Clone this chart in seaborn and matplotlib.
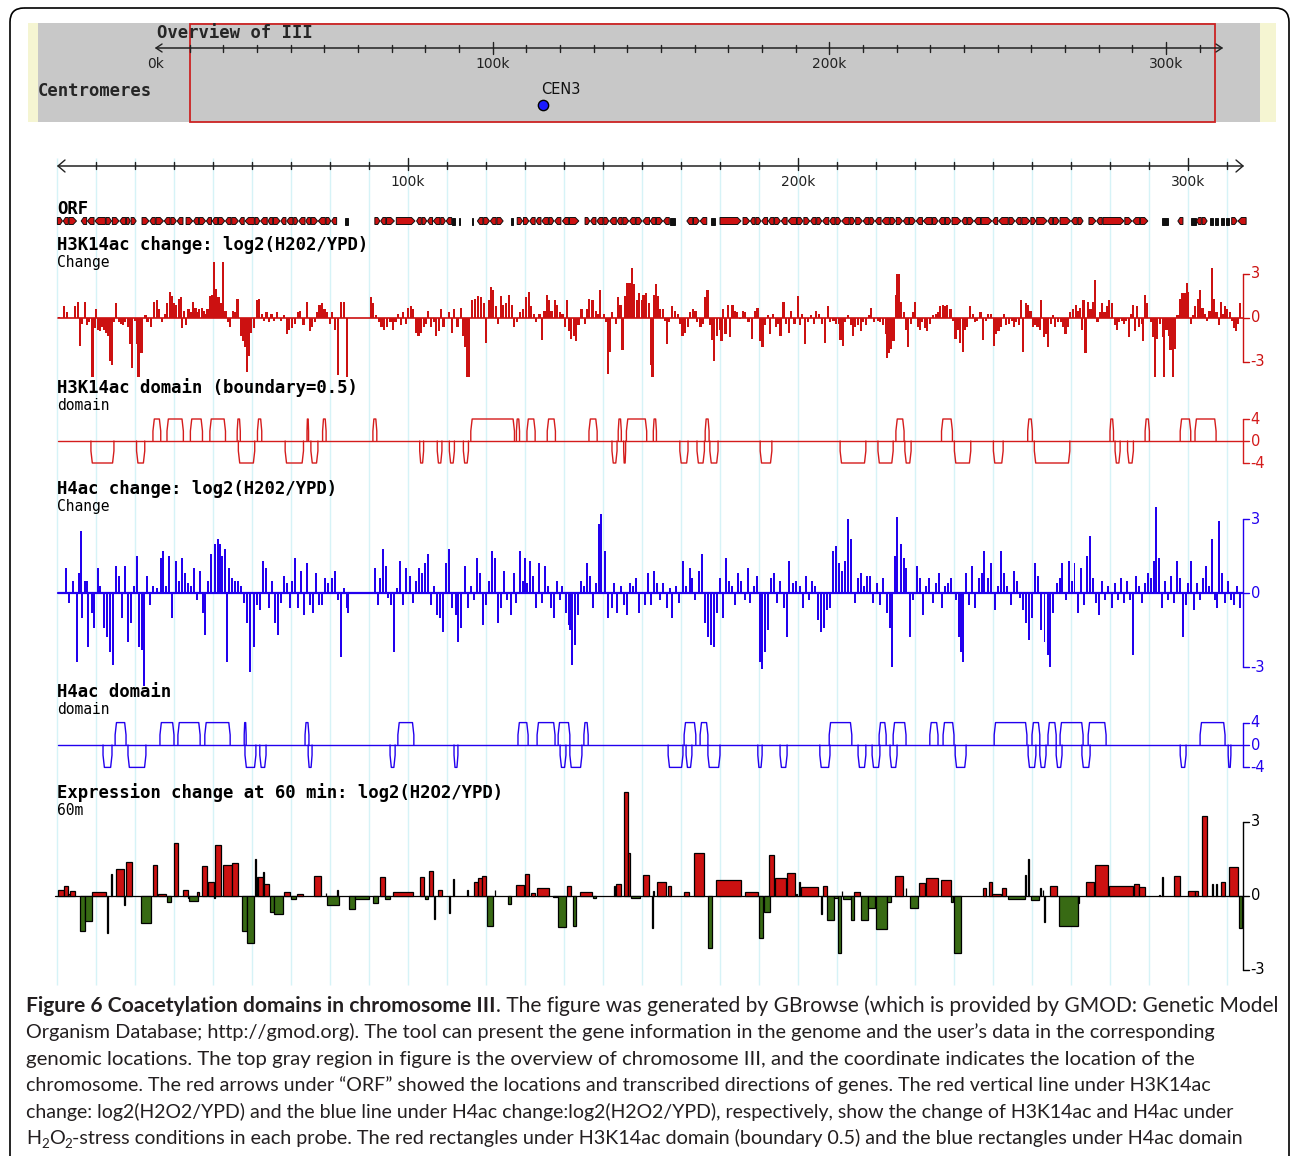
import numpy as np
import pandas as pd
import matplotlib
matplotlib.use("Agg")
import matplotlib.pyplot as plt
from matplotlib.patches import Rectangle, Polygon, FancyBboxPatch
import seaborn as sns

# ---------------------------------------------------------------- data
chr_len_kb = 316.6
view_kb = [10.1, 314.5]
cen3_kb = 114.9
ruler_major_kb = [100, 200, 300]
ruler_major_labels = ["100k", "200k", "300k"]
overview_labels = ["0k", "100k", "200k", "300k"]

# ORF features: (start kb, end kb, strand); strand 0 = unoriented feature
orf_genes = [
    (10.1, 11.4, 1), (11.6, 12.9, -1), (13.1, 15.0, 1),
    (16.2, 17.6, -1), (17.8, 19.5, -1), (19.7, 22.4, -1), (22.6, 24.0, 1), (24.2, 25.9, 1),
    (26.1, 27.6, -1), (27.8, 28.8, 1), (29.0, 30.3, 1),
    (31.8, 33.6, 1), (33.8, 35.2, -1), (35.4, 37.3, 1), (37.5, 39.0, -1), (39.2, 40.6, 1), (40.8, 42.3, -1),
    (43.1, 44.8, 1), (45.0, 46.3, -1), (46.5, 48.1, 1), (48.3, 49.6, -1), (49.8, 51.2, -1), (51.4, 53.0, 1),
    (53.2, 54.6, -1), (54.8, 56.5, 1), (56.7, 58.0, -1), (58.2, 60.6, -1), (60.8, 62.0, 1), (62.2, 63.9, -1),
    (64.1, 65.3, -1), (65.5, 67.2, 1), (67.4, 68.7, -1), (68.9, 70.5, -1), (70.7, 71.8, 1), (72.0, 73.6, -1),
    (73.8, 75.0, -1), (75.2, 76.8, 1), (77.0, 78.8, -1), (79.0, 80.2, 1), (80.4, 81.7, -1), (83.9, 84.6, 0),
    (91.5, 92.8, 1), (93.0, 94.3, -1), (94.5, 96.5, 1), (97.0, 101.8, 1), (102.2, 103.4, -1), (103.6, 104.8, 1),
    (105.0, 106.3, -1), (106.5, 108.2, -1), (108.4, 109.6, 1), (109.8, 111.2, -1), (111.4, 112.0, 0), (113.1, 113.4, 0),
    (116.4, 116.7, 0), (117.8, 119.2, -1), (119.4, 120.9, 1), (121.1, 122.6, -1), (122.8, 124.4, 1),
    (126.4, 126.9, 0), (128.0, 129.4, 1), (129.6, 131.0, 1), (131.2, 132.6, -1), (132.8, 134.1, -1),
    (134.3, 136.0, -1), (136.2, 137.4, 1), (137.6, 139.2, -1), (139.6, 141.2, -1), (141.4, 143.8, 1),
    (145.4, 146.6, 1), (146.8, 148.2, -1), (148.4, 150.0, -1), (150.2, 151.5, 1), (151.7, 153.4, -1),
    (153.6, 154.9, -1), (155.1, 156.6, 1), (156.8, 158.3, -1), (158.5, 160.0, 1), (160.2, 161.9, -1),
    (162.1, 163.5, -1), (163.7, 165.3, 1), (165.5, 167.0, -1), (167.2, 168.5, 0),
    (171.5, 173.0, -1), (173.2, 174.7, 1), (174.9, 176.6, -1), (177.8, 178.7, 0),
    (180.0, 185.4, 1), (185.9, 187.6, 1), (187.8, 189.0, -1), (189.2, 190.5, 1), (190.7, 192.2, -1),
    (192.4, 193.8, -1), (194.0, 195.5, 1), (195.7, 197.2, -1), (197.4, 199.6, -1), (199.8, 201.3, 1),
    (201.5, 203.0, 1), (203.2, 204.6, -1), (204.8, 206.1, 1), (206.3, 207.9, -1), (208.1, 209.5, -1),
    (209.7, 211.0, 1), (211.2, 213.1, -1), (213.3, 214.6, 1), (214.8, 216.5, 1), (216.7, 218.2, -1),
    (218.4, 219.6, 1), (219.8, 221.3, -1), (221.5, 223.4, -1), (223.6, 225.0, 1), (225.2, 226.8, 1),
    (227.0, 228.4, -1), (228.6, 230.1, 1), (230.3, 231.9, -1), (232.1, 234.3, -1), (234.5, 235.9, 1),
    (236.1, 237.6, -1), (237.8, 239.3, 1), (239.5, 241.8, 1), (242.0, 243.3, -1), (243.5, 245.0, 1),
    (245.2, 246.8, -1), (247.0, 249.7, 1), (249.9, 251.2, -1), (251.4, 253.9, -1), (254.1, 255.6, 1),
    (255.8, 257.2, -1), (257.4, 259.5, 1), (259.7, 261.0, 1), (261.2, 263.9, 1), (264.1, 265.3, -1),
    (265.5, 267.0, 1), (267.2, 269.9, 1), (270.1, 271.6, -1), (271.8, 273.1, 1),
    (274.6, 276.4, 1), (276.6, 278.0, -1), (278.2, 283.6, 1), (283.8, 285.6, 1), (285.8, 287.6, -1),
    (287.8, 289.7, 1), (293.3, 294.9, 0), (297.4, 298.7, -1),
    (300.8, 302.0, 0), (302.2, 303.4, -1), (303.6, 304.9, 1), (305.6, 306.4, 0), (307.0, 307.8, 0),
    (308.4, 309.2, 0), (309.8, 310.6, 0), (311.2, 312.6, 1), (312.8, 314.9, -1),
]

# H3K14ac change per probe: (position kb, log2 ratio)
h3k14ac_change = [
    (10.5, 0.1), (11.8, 0.8), (12.5, 0.4), (14.7, 0.8), (15.4, 1.1), (15.8, -1.9), (16.3, -0.4), (17.1, 1.1),
    (17.6, -0.5), (18.1, -0.3), (19.1, -4.0), (19.6, -0.7),
    (20.0, 0.6), (20.5, -0.8), (21.0, -0.9), (21.5, -0.6), (22.0, -0.8), (22.5, -1.0), (23.0, -1.2), (23.5, -2.9),
    (24.0, -3.2), (24.5, -0.3), (25.2, 1.0), (25.9, -0.3), (26.4, -0.4), (26.9, -0.5), (27.4, -0.3), (28.1, -0.6),
    (28.8, -1.8), (29.3, -3.4), (29.9, -0.2),
    (30.5, -1.8), (30.9, -4.0), (31.5, -2.4), (31.9, -2.4), (32.7, 0.2), (33.2, -0.3), (34.0, -0.6), (34.8, 1.1),
    (35.7, 1.2), (36.1, 0.6), (36.9, -0.3), (37.6, 0.3), (38.3, 1.0), (38.9, 1.8), (39.4, 1.5), (39.9, 1.0),
    (40.5, 0.9), (41.2, 1.3), (41.7, 1.4), (42.0, -0.7), (42.6, 0.5), (43.1, -0.5), (43.7, 0.6), (44.4, 0.4),
    (44.9, 1.1), (45.5, 0.7), (46.0, 0.4), (46.4, 0.6), (47.1, 0.7), (47.7, 0.5), (48.2, 0.3), (48.6, 0.6),
    (49.3, 1.5), (49.8, 1.6),
    (50.3, 3.8), (50.8, 2.0), (51.4, 1.4), (52.0, 1.0), (52.6, 3.8), (53.2, 0.5), (53.9, -0.3), (54.3, -0.6),
    (55.2, 0.5), (55.7, 0.4), (56.3, 1.3), (57.1, -1.2), (57.8, -1.6), (58.3, -2.0), (58.8, -3.7), (59.3, -2.6),
    (59.8, -1.0),
    (60.5, -0.7), (61.2, 1.2), (61.7, 1.3), (62.5, 0.3), (63.1, -0.2), (63.7, 0.4), (64.4, -0.3), (65.0, 0.3),
    (65.6, -0.2), (66.4, 0.4), (67.4, -0.2), (68.3, 0.2), (68.9, -1.1), (69.5, -0.8),
    (70.3, -0.7), (71.0, -0.4), (71.8, 0.4), (72.4, 0.5), (73.2, -0.5), (74.2, 1.1), (74.8, -0.9), (75.4, -0.6),
    (76.1, -0.3), (76.6, 0.4), (77.3, 0.9), (77.9, 1.0), (78.6, 0.6), (79.3, 0.4), (79.9, -0.4),
    (80.5, 0.4), (81.2, -0.8), (82.0, -3.9), (82.8, 1.1), (83.5, 1.1), (84.4, -4.0),
    (90.6, 1.4), (91.1, 1.0), (91.8, 0.2), (92.5, -0.3), (93.2, -0.6), (93.9, -0.8), (94.7, -0.6), (95.5, -0.3),
    (96.1, -0.8), (96.8, -0.3), (97.4, 0.3), (98.1, -0.5), (98.8, 0.4), (99.4, -0.4),
    (100.0, 0.7), (100.7, 0.8), (101.3, 0.6), (102.0, -1.0), (102.7, -1.2), (103.3, -1.0), (104.0, -0.6),
    (104.6, -0.4), (105.2, 0.5), (105.9, -0.6), (106.6, -0.3), (107.2, -1.2), (107.9, -0.9), (108.5, 0.6),
    (109.1, -0.6),
    (110.6, 0.4), (111.3, -1.0), (111.9, 0.6), (112.7, -0.6), (113.5, 0.7), (114.2, -1.2), (114.7, -2.0),
    (115.2, -4.0), (115.7, -4.0), (116.5, 1.2), (117.2, 1.3), (117.9, 1.5), (118.7, 1.4), (119.4, 1.0),
    (120.0, -1.7), (120.7, 1.2), (121.2, 2.1), (121.7, 1.9), (122.5, 0.8), (123.1, -0.4), (123.8, 1.5),
    (124.4, 0.9), (125.1, 1.0), (125.9, 1.6), (126.7, 0.9), (127.1, -0.6), (127.9, -0.3), (128.8, 0.4),
    (129.5, 0.6),
    (130.3, 1.4), (131.0, 1.8), (131.6, 0.8), (132.3, 0.3), (132.9, -0.3), (133.7, 0.3), (134.3, -1.5),
    (135.0, 0.5), (135.6, 1.6), (136.2, 1.2), (136.8, 0.5), (137.6, 1.2), (138.2, 0.9), (139.0, 0.4), (139.6, 0.3),
    (140.2, -0.6), (140.7, 1.2), (141.3, -0.9), (141.7, -1.4), (142.5, -1.2), (143.1, -1.6), (143.7, -0.5),
    (144.5, 0.6), (145.3, -0.4), (145.9, 0.6), (146.5, 1.3), (147.3, 1.2), (148.1, 0.5), (148.7, 0.3), (149.2, 1.9),
    (150.3, 0.3), (150.9, -0.3), (151.3, -3.8), (151.8, -2.3), (152.3, 0.4), (153.3, -0.4), (153.8, 1.4),
    (154.5, 0.9), (155.0, -2.2), (155.6, 1.5), (156.2, 2.4), (156.8, 2.4), (157.4, 3.4), (158.0, 2.3),
    (158.7, 1.2), (159.3, 1.7),
    (160.0, 1.2), (160.4, 1.6), (161.0, 1.7), (161.7, 1.0), (162.2, -3.2), (162.7, -4.0), (163.2, 1.6),
    (163.6, 2.3), (164.0, 1.5), (164.7, 0.6), (165.4, 0.6), (166.0, -0.2), (166.5, -1.8), (167.0, -0.3),
    (167.7, 0.8), (168.4, 0.5), (169.2, 0.3), (169.8, -0.4),
    (170.4, -1.2), (171.0, -1.0), (171.7, -0.6), (172.4, 0.4), (173.0, 0.6), (173.7, 0.5), (174.2, -0.3),
    (175.0, -0.6), (175.7, -0.4), (176.2, 1.4), (176.8, 1.9), (177.4, -0.5), (178.0, -1.5), (178.5, -2.9),
    (179.2, -1.2), (179.9, -0.8),
    (180.4, -1.6), (180.8, 0.6), (181.4, -1.1), (182.0, 0.9), (182.6, -1.3), (183.2, 0.9), (183.8, 0.5),
    (184.4, 0.4), (185.2, -0.1), (186.0, 0.5), (186.5, 0.4), (187.3, -0.3), (188.1, -1.4), (188.9, 0.5),
    (189.6, 0.7),
    (190.4, -1.6), (190.9, -2.0), (191.5, -0.5), (192.3, 0.2), (192.9, -1.1), (193.6, 0.3), (194.3, -0.6),
    (194.9, -0.4), (195.5, -1.2), (196.3, 1.1), (196.9, -0.4), (197.6, -1.0), (198.3, 0.5), (199.1, -0.4),
    (199.9, 1.5),
    (200.5, -0.5), (201.1, 0.3), (201.9, -1.8), (202.6, -0.3), (203.3, 0.2), (204.1, -0.4), (204.7, 0.5),
    (205.3, 0.3), (206.1, -0.4), (206.9, -1.7), (207.7, 0.8), (208.3, -0.3), (209.1, -0.2), (209.7, -0.4),
    (210.5, -0.4), (210.9, -1.5), (211.5, -1.9), (212.1, -0.3), (212.9, 0.2), (213.5, -0.5), (214.1, -1.2),
    (214.7, -0.6), (215.4, -0.5), (216.1, -0.9), (216.7, -0.3), (217.5, -0.5), (218.1, 0.2), (218.8, 0.7),
    (219.5, -0.3),
    (220.5, -0.2), (221.1, -0.3), (221.9, -0.5), (222.5, -1.1), (222.9, -2.7), (223.4, -2.4), (223.9, -2.1),
    (224.5, -1.6), (225.1, 1.6), (225.5, 3.0), (225.9, 3.0), (226.5, 1.1), (227.1, 0.4), (227.7, -0.8),
    (228.3, -2.0), (228.9, -0.4), (229.5, 0.4),
    (230.1, 1.1), (230.7, -0.6), (231.3, -0.8), (231.9, -0.3), (232.6, -0.7), (233.1, -0.9), (233.9, -0.4),
    (234.6, 0.2), (235.3, 0.3), (235.9, 0.4), (236.5, 0.8), (237.1, 0.9), (237.7, 0.8), (238.3, 0.9),
    (239.1, 0.6), (239.7, -0.2),
    (240.4, -1.4), (241.0, -0.8), (241.6, -1.7), (242.2, -2.3), (242.8, -0.8), (243.4, -0.6), (244.2, 0.8),
    (244.8, 0.3), (245.4, -0.3), (246.0, -0.2), (246.8, 0.4), (247.5, -1.5), (248.2, -0.2), (248.8, 0.3),
    (249.5, 0.3),
    (250.2, -1.9), (250.8, -1.1), (251.4, -0.9), (252.0, -0.6), (252.8, 0.3), (253.4, -0.5), (254.0, -0.4),
    (254.8, -0.2), (255.4, -0.6), (256.0, -0.3), (256.6, -0.5), (257.2, 1.2), (257.8, -2.3), (258.5, 1.0),
    (259.0, 0.9), (259.6, 0.5),
    (260.2, -0.6), (260.8, -0.5), (261.4, -0.6), (262.0, -0.8), (262.4, 1.2), (263.0, -1.3), (263.6, -1.1),
    (264.1, -2.0), (264.8, -0.4), (265.4, 0.2), (266.0, -0.6), (266.6, -0.3), (267.4, -0.3), (268.0, -0.6),
    (268.6, -1.1), (269.2, -0.6), (269.8, 0.4),
    (270.6, 0.6), (271.2, 0.9), (271.8, 0.5), (272.4, 0.7), (272.8, -0.8), (273.2, 1.2), (273.7, -2.4),
    (274.3, 1.1), (275.0, 0.6), (275.6, 1.1), (276.2, 2.6), (276.8, -0.3), (277.4, 0.4), (278.0, 1.0),
    (278.6, 0.4), (279.2, 0.8), (279.8, 1.2),
    (280.6, 1.0), (281.2, -0.5), (281.8, -0.8), (282.4, -0.3), (283.0, -0.2), (283.6, -0.4), (284.2, -0.2),
    (284.8, -1.3), (285.4, 0.3), (286.0, 0.9), (286.5, -0.9), (286.9, 0.8), (287.5, -0.6), (288.1, -0.4),
    (288.5, -1.6), (288.9, 1.6), (289.4, 1.0),
    (290.5, -0.3), (291.1, -1.3), (291.5, -4.0), (292.1, -1.4), (292.9, -0.4), (293.5, -1.3), (293.9, -4.0),
    (294.5, -0.8), (295.1, -1.2), (295.5, -2.2), (296.1, -4.0), (296.7, -2.1), (297.3, 0.2), (297.9, 1.3),
    (298.5, 1.7), (299.1, 1.7), (299.7, 2.4),
    (300.1, 1.8), (300.7, -0.4), (301.3, 0.2), (301.9, 0.8), (302.5, 1.3), (303.1, 1.9), (303.7, 0.7),
    (304.3, 0.3), (304.9, -0.2), (305.5, 0.5), (306.1, 3.4), (306.7, 1.3), (307.3, 0.4), (307.9, -0.5),
    (308.5, 1.1), (308.9, 0.3), (309.5, 0.8),
    (310.1, 0.6), (310.7, 0.4), (311.3, -0.2), (311.9, -0.7), (312.4, -0.9), (312.9, -0.4), (313.4, 1.0),
]

# H4ac change per probe: (position kb, log2 ratio)
h4ac_change = [
    (12.2, 1.0), (13.1, -0.4), (14.1, 0.5), (15.1, -2.8), (15.7, 0.8), (16.1, 2.5), (16.5, -1.0), (17.1, 0.5),
    (17.6, 0.5), (18.0, -2.2), (19.0, -0.8), (19.6, -1.4),
    (20.4, 1.0), (21.0, 0.3), (22.0, -1.4), (22.7, -1.8), (23.5, -2.4), (24.3, -2.9), (25.1, 1.1), (25.9, 0.7),
    (26.7, -1.0), (27.5, 1.1), (28.2, -2.0), (29.0, -1.2), (29.8, 0.3),
    (30.4, 1.5), (31.0, -2.2), (31.8, -2.3), (32.4, -4.0), (33.1, 0.7), (33.9, -0.5), (34.7, 0.3), (35.7, 0.2),
    (36.7, 1.4), (37.3, 1.7), (38.0, 0.3), (38.8, 1.5), (39.6, -1.0),
    (40.4, 1.3), (41.2, 0.5), (42.0, 1.4), (42.7, 0.8), (43.5, 0.4), (44.3, 0.3), (45.1, 1.0), (45.9, -0.3),
    (46.7, 0.9), (47.5, -0.8), (48.0, -1.7), (48.6, 0.5), (49.4, 1.6),
    (50.6, 2.0), (51.2, 2.2), (51.8, 2.0), (52.4, 1.5), (53.0, 1.8), (53.5, -2.8), (54.1, 1.0), (54.9, 0.6),
    (55.7, 0.5), (56.5, 0.5), (57.3, 0.3), (58.0, -0.4), (58.8, -1.2), (59.6, -3.2),
    (60.4, -2.2), (61.2, -0.5), (62.0, -0.7), (62.7, 1.3), (63.5, 1.0), (64.3, -0.6), (65.1, 0.5), (65.9, -1.2),
    (66.7, -1.7), (67.5, -0.4), (68.3, 0.7), (69.0, 0.4), (69.8, -0.6),
    (70.2, 0.5), (71.0, 1.4), (71.8, -0.6), (72.5, 0.9), (73.3, -0.9), (74.1, 1.2), (74.9, -0.5), (75.7, -0.8),
    (76.5, 0.8), (77.3, -0.5), (78.0, -0.5), (78.8, 0.6), (79.6, 0.4),
    (80.4, 0.6), (81.2, 0.9), (82.0, -0.3), (82.7, -2.6), (83.5, 0.2), (84.3, -0.6), (84.7, -0.8),
    (91.6, 1.0), (92.2, -0.5), (92.9, 0.6), (93.7, 1.8), (94.3, 1.1), (94.9, -0.2), (95.7, -0.5), (96.5, -2.4),
    (97.3, 0.2), (98.0, 1.3), (98.8, -0.5), (99.6, 1.0),
    (100.4, 0.7), (101.2, -0.4), (102.0, 0.5), (102.7, 1.0), (103.5, 0.8), (104.3, 1.2), (105.1, 1.6),
    (105.9, -0.5), (106.7, 0.3), (107.5, -0.9), (108.2, -1.0), (109.0, -1.6), (109.8, 1.2),
    (110.6, 1.8), (111.4, -0.6), (112.2, -0.9), (112.9, -2.0), (113.7, -1.4), (114.5, 1.1), (115.3, -0.6),
    (116.1, 0.3), (116.9, -0.3), (117.6, 1.4), (118.4, 0.8), (119.2, -1.3),
    (120.0, -0.5), (120.8, 0.5), (121.6, 1.7), (122.4, 1.4), (123.1, -1.2), (123.9, -0.6), (124.7, 0.9),
    (125.5, -0.3), (126.3, -0.9), (127.1, 0.8), (127.8, -0.4), (128.6, 1.7), (129.4, 0.5),
    (130.0, 1.4), (130.4, 0.4), (131.2, 1.3), (132.0, 0.7), (132.7, -0.6), (133.5, 1.2), (134.3, -0.4),
    (135.1, 1.1), (135.9, 0.3), (136.7, -0.6), (137.5, -1.0), (138.2, 0.5), (139.0, -0.3), (139.6, 0.3),
    (140.4, -0.8), (141.2, -1.3), (141.6, -1.5), (142.0, -2.9), (142.7, -2.1), (143.5, -0.9), (144.3, 0.5),
    (145.1, 0.3), (145.9, 1.2), (146.7, 0.7), (147.5, -0.6), (148.2, 0.4), (149.0, 2.8), (149.6, 3.2),
    (150.6, 1.7), (151.4, -1.0), (152.2, -0.6), (152.9, 0.4), (153.7, -0.8), (154.5, 0.3), (155.3, -0.5),
    (156.1, -0.9), (156.9, 0.4), (157.6, 0.3), (158.4, 0.6), (159.2, -0.8),
    (160.8, -0.5), (161.6, 0.8), (162.4, -0.5), (163.1, 0.9), (163.9, 0.4), (164.7, -0.3), (165.5, 0.4),
    (166.3, -0.6), (167.1, 0.2), (167.8, -1.0), (168.6, 0.3), (169.4, -0.4),
    (170.6, 1.3), (171.4, 0.3), (172.2, 1.0), (172.9, 0.6), (173.7, -0.3), (174.5, 0.9), (175.3, 1.6),
    (176.1, -1.2), (176.9, -1.8), (177.6, -2.1), (178.4, -2.2), (179.2, -0.8), (180.0, 0.6),
    (180.8, -1.0), (181.6, 1.4), (182.4, 0.5), (183.1, 0.3), (183.9, -0.5), (184.7, 0.8), (185.5, 0.5),
    (186.3, -0.3), (187.1, 1.0), (187.8, -0.4), (188.6, 0.3), (189.4, 0.7),
    (190.2, -2.8), (190.8, -3.1), (191.6, -2.4), (192.4, -1.5), (193.1, 0.6), (193.9, 0.8), (194.7, -0.4),
    (195.5, 0.5), (196.3, -0.6), (197.1, -1.8), (197.8, 1.3), (198.6, 0.4), (199.4, 0.5),
    (200.4, 0.3), (201.2, -0.6), (202.0, 0.7), (202.7, -0.3), (203.5, 0.5), (204.3, 0.3), (205.1, -1.1),
    (205.9, -1.6), (206.7, -1.4), (207.5, -0.7), (208.2, -0.6), (209.0, 1.7), (209.8, 1.9),
    (210.5, 1.2), (211.3, 0.9), (212.1, 1.3), (212.9, 3.0), (213.7, 2.2), (214.5, -0.4), (215.3, 0.6),
    (216.1, 0.8), (216.9, 0.3), (217.6, 0.7), (218.4, 0.7), (219.2, -0.4),
    (220.3, 0.4), (221.1, -0.5), (221.9, 0.6), (222.7, -0.8), (223.5, -1.4), (224.1, -3.0), (224.9, 1.5),
    (225.5, 3.1), (226.3, 2.0), (227.1, 1.4), (227.8, 1.0), (228.6, -1.8), (229.4, -0.3),
    (230.5, 1.1), (231.3, 0.6), (232.1, -0.9), (232.9, 0.3), (233.7, 0.6), (234.5, -0.4), (235.3, 0.4),
    (236.1, 0.8), (236.9, -0.6), (237.6, 0.3), (238.4, 0.4), (239.2, 0.6),
    (240.4, -0.3), (241.2, -1.8), (241.8, -2.4), (242.3, -2.8), (243.1, 0.8), (243.9, -0.5), (244.7, 1.1),
    (245.5, -0.6), (246.3, 0.6), (247.1, 0.8), (247.8, 1.7), (248.6, 0.6), (249.4, 1.2),
    (250.5, -0.7), (251.3, 0.3), (252.1, 1.7), (252.9, 0.8), (253.7, 0.3), (254.5, -0.5), (255.3, 0.9),
    (256.1, 0.5), (256.9, -0.2), (257.6, -0.7), (258.4, -1.2), (259.2, -1.9),
    (260.0, -1.0), (260.8, 1.2), (261.6, 0.7), (262.4, -1.5), (263.2, -2.0), (264.0, -2.5), (264.7, -3.0),
    (265.5, -0.8), (266.3, 0.4), (267.1, 0.6), (267.8, 1.2), (268.6, -0.3), (269.4, 1.3),
    (270.2, 0.5), (270.9, 1.2), (271.7, -0.8), (272.5, 1.0), (273.3, -0.5), (274.1, 1.5), (274.9, 2.3),
    (275.7, 0.6), (276.5, -0.4), (277.3, -0.9), (278.0, 0.5), (278.8, -0.3), (279.6, 0.3),
    (280.4, -0.6), (281.2, 0.4), (282.0, -0.3), (282.7, 0.6), (283.5, -0.4), (284.3, 0.5), (285.1, -0.3),
    (285.9, -2.5), (286.7, 0.7), (287.5, 0.3), (288.3, -0.4), (289.0, 0.4), (289.8, 0.8),
    (290.5, 0.6), (291.3, 1.3), (291.9, 3.5), (292.5, 1.4), (293.3, -0.6), (294.1, 0.5), (294.9, -0.3),
    (295.7, 0.7), (296.5, -0.4), (297.3, 1.3), (298.0, 0.6), (298.8, -1.8), (299.6, -0.5),
    (300.0, 0.4), (300.8, 1.3), (301.6, -0.7), (302.4, 0.4), (303.1, -0.3), (303.9, 0.6), (304.7, 1.1),
    (305.5, 0.3), (306.1, 2.2), (306.9, -0.3), (307.5, -0.6), (308.0, 2.9), (308.6, 0.8), (309.4, -0.4),
    (310.2, 0.5), (311.0, -0.3), (311.8, -0.5), (312.5, 0.3), (313.3, -0.6),
]

# acetylation domains: (start kb, end kb, +1 enriched / -1 depleted)
h3k14ac_domains = [
    (34.6, 36.6, 1), (38.2, 42.4, 1), (44.2, 47.3, 1), (49.2, 53.2, 1), (56.2, 57.0, 1), (61.4, 62.5, 1),
    (74.1, 74.5, 1), (78.1, 79.0, 1), (91.0, 92.0, 1), (116.1, 127.3, 1), (127.8, 128.6, 1), (130.5, 132.6, 1),
    (135.7, 137.8, 1), (146.4, 148.5, 1), (153.9, 154.7, 1), (156.0, 161.2, 1), (162.9, 163.7, 1),
    (176.2, 177.2, 1), (225.1, 227.2, 1), (236.8, 239.6, 1), (258.9, 260.1, 1), (280.0, 280.9, 1),
    (289.0, 290.1, 1), (298.0, 300.7, 1), (301.8, 307.2, 1),
    (18.7, 24.6, -1), (30.4, 32.5, -1), (56.5, 60.7, -1), (68.5, 73.2, -1), (75.1, 76.9, -1),
    (103.0, 104.0, -1), (107.5, 108.7, -1), (110.6, 111.9, -1), (114.2, 115.5, -1), (152.3, 153.6, -1),
    (155.3, 155.8, -1), (169.7, 171.8, -1), (174.1, 176.0, -1), (177.4, 179.5, -1), (190.3, 193.3, -1),
    (210.8, 217.4, -1), (220.5, 224.4, -1), (227.4, 229.0, -1), (240.1, 244.3, -1), (250.1, 252.6, -1),
    (260.6, 269.7, -1), (281.3, 282.6, -1), (284.5, 286.0, -1),
]
h4ac_domains = [
    (24.9, 27.7, 1), (36.4, 40.0, 1), (41.0, 46.7, 1), (47.9, 54.4, 1), (58.0, 58.5, 1), (73.6, 74.6, 1),
    (97.4, 101.5, 1), (128.2, 130.8, 1), (133.1, 137.7, 1), (138.5, 141.5, 1), (145.1, 146.2, 1),
    (170.8, 173.8, 1), (174.9, 176.9, 1), (208.0, 213.8, 1), (220.8, 222.6, 1), (224.4, 227.7, 1),
    (233.8, 235.9, 1), (237.2, 240.0, 1), (250.3, 258.7, 1), (260.0, 262.0, 1), (264.1, 266.2, 1),
    (267.2, 273.1, 1), (274.4, 279.0, 1), (303.1, 309.5, 1),
    (21.8, 24.1, -1), (28.2, 32.8, -1), (58.2, 61.0, -1), (62.0, 63.6, -1), (74.4, 75.4, -1), (95.4, 96.7, -1),
    (111.8, 112.8, -1), (139.0, 140.5, -1), (141.5, 144.6, -1), (166.7, 170.5, -1), (171.3, 172.8, -1),
    (176.9, 180.0, -1), (189.7, 190.8, -1), (195.4, 197.2, -1), (205.6, 208.2, -1), (215.4, 217.4, -1),
    (219.0, 221.0, -1), (223.6, 225.4, -1), (240.3, 243.1, -1), (259.0, 261.0, -1), (262.0, 263.6, -1),
    (266.2, 267.7, -1), (272.8, 274.9, -1), (298.0, 299.5, -1), (310.3, 311.0, -1),
]

# expression change at 60 min per gene: (start kb, end kb, log2 ratio)
expression_60m = [
    (10.3, 11.7, 0.23), (11.7, 12.7, 0.4), (12.9, 13.4, 0.1), (13.4, 14.6, 0.2), (16.0, 17.1, -1.4),
    (17.3, 19.0, -1.0), (19.0, 22.5, 0.16), (22.8, 23.2, -1.5), (23.8, 24.1, 0.9), (25.1, 27.2, 1.1),
    (27.2, 27.5, -0.37), (27.8, 29.2, 1.36), (31.5, 34.1, -1.08), (34.5, 35.6, 1.24), (35.8, 37.9, 0.1),
    (38.1, 39.2, -0.25), (39.9, 41.0, 2.13), (42.2, 43.5, 0.23), (43.5, 43.8, -0.1), (43.8, 46.2, -0.2),
    (46.0, 46.3, 0.16), (47.3, 48.5, 1.2), (48.8, 50.2, 0.55), (50.3, 50.5, -0.1), (50.6, 52.1, 2.07),
    (52.5, 54.8, 1.24), (54.8, 56.5, 1.35), (57.5, 58.8, -1.4), (58.8, 60.4, -1.9), (60.8, 61.1, 1.52),
    (61.3, 61.5, 0.76), (61.6, 62.7, 0.76), (62.8, 63.0, 0.96), (63.1, 64.4, 0.5), (64.7, 65.6, -0.64),
    (65.6, 67.9, -0.71), (68.3, 69.7, 0.17), (70.0, 71.3, -0.13), (71.5, 73.1, 0.07), (75.9, 77.7, 0.83),
    (78.9, 79.1, 0.12), (79.2, 82.2, -0.37), (81.8, 82.0, 0.23), (84.8, 86.5, -0.53), (86.5, 90.0, -0.13),
    (91.0, 92.3, -0.27), (92.7, 94.0, 0.79), (94.2, 95.5, -0.13), (96.1, 101.3, 0.16), (103.1, 104.0, 0.79),
    (104.4, 105.2, -0.13), (105.4, 106.3, 1.0), (106.6, 106.8, -0.93), (107.7, 108.8, 0.23),
    (110.6, 110.8, -0.67), (111.6, 111.8, 0.67), (115.1, 115.3, 0.23), (116.9, 117.9, 0.55),
    (117.9, 119.0, 0.72), (119.0, 119.9, 0.83), (120.2, 121.8, -1.2), (122.2, 122.4, 0.23),
    (125.6, 126.5, -0.31), (127.8, 129.8, 0.43), (130.1, 130.9, 0.9), (131.5, 132.5, 0.12),
    (133.2, 136.1, 0.32), (137.1, 138.4, -0.03), (138.4, 140.5, -1.27), (140.8, 141.7, 0.39),
    (142.3, 143.1, -1.2), (144.2, 147.3, 0.16), (147.5, 148.3, -0.07), (152.9, 153.1, 0.39),
    (153.3, 154.6, 0.5), (155.4, 156.4, 4.2), (156.4, 157.0, 1.73), (157.3, 159.6, -0.07),
    (160.2, 161.8, 0.87), (162.6, 162.8, -1.3), (162.9, 163.1, 0.22), (163.9, 166.2, 0.58),
    (166.7, 167.5, 0.42), (170.7, 172.1, 0.16), (173.4, 175.9, 1.75), (177.0, 178.0, -2.1),
    (179.1, 185.3, 0.64), (186.4, 189.7, 0.16), (189.9, 191.1, -1.7), (191.4, 192.7, -0.63),
    (192.5, 193.9, 1.68), (194.1, 196.9, 0.74), (197.3, 199.2, 0.92), (199.5, 199.7, 0.1),
    (200.3, 200.5, 0.58), (200.8, 205.0, 0.38), (205.9, 206.1, -0.72), (206.3, 207.5, 0.42),
    (207.5, 209.2, -0.96), (209.2, 210.2, -0.1), (210.3, 210.9, -2.3), (211.2, 211.4, 0.22),
    (211.5, 213.6, -0.14), (213.6, 214.3, -0.96), (214.3, 216.0, 0.16), (216.2, 217.9, -0.96),
    (218.0, 219.7, -0.5), (220.1, 222.7, -1.34), (222.8, 223.9, -0.25), (224.9, 227.0, 0.8),
    (227.6, 227.8, 0.31), (228.8, 230.7, -0.5), (231.0, 232.5, 0.52), (232.7, 235.8, 0.71),
    (236.6, 239.3, 0.64), (239.3, 239.8, -0.25), (240.1, 241.9, -2.3), (247.4, 248.2, 0.31),
    (248.9, 249.7, 0.58), (249.8, 252.1, 0.07), (252.2, 253.4, 0.31), (253.9, 258.1, -0.14),
    (258.3, 258.5, 0.87), (259.0, 259.3, 1.48), (259.7, 261.8, -0.18), (262.1, 262.3, 0.31),
    (262.7, 262.9, 0.25), (263.2, 263.4, -1.06), (264.5, 266.5, 0.42), (266.8, 271.8, -1.21),
    (271.9, 272.1, -0.3), (273.9, 275.9, 0.58), (276.2, 279.4, 1.26), (279.8, 285.9, 0.42),
    (286.1, 287.4, 0.48), (287.5, 289.0, 0.38), (292.5, 292.7, 0.05), (293.3, 293.5, 0.78),
    (296.5, 298.0, 0.81), (300.1, 301.8, 0.22), (301.8, 302.6, 0.22), (303.7, 304.9, 3.23),
    (306.2, 306.4, 0.48), (307.3, 307.5, 0.5), (308.4, 309.4, 0.58), (310.6, 312.9, 1.16),
    (313.1, 313.9, -1.3),
]

caption_lines = [
    [("Figure 6 Coacetylation domains in chromosome III", "bold"),
     (". The figure was generated by GBrowse (which is provided by GMOD: Genetic Model", "normal")],
    [("Organism Database; http://gmod.org). The tool can present the gene information in the genome and "
      "the user\u2019s data in the corresponding", "normal")],
    [("genomic locations. The top gray region in figure is the overview of chromosome III, and the "
      "coordinate indicates the location of the", "normal")],
    [("chromosome. The red arrows under \u201cORF\u201d showed the locations and transcribed directions "
      "of genes. The red vertical line under H3K14ac", "normal")],
    [("change: log2(H2O2/YPD) and the blue line under H4ac change:log2(H2O2/YPD), respectively, show the "
      "change of H3K14ac and H4ac under", "normal")],
    [("H", "normal"), ("2", "sub"), ("O", "normal"), ("2", "sub"),
     ("-stress conditions in each probe. The red rectangles under H3K14ac domain (boundary 0.5) and the "
      "blue rectangles under H4ac domain", "normal")],
]
caption_line_ends = [1278, 1222, 1192, 1211, 1233, 1245]

# ---------------------------------------------------------------- style
sns.set_theme(style="white", rc={"axes.facecolor": "none"})
plt.rcParams["font.family"] = ["DejaVu Sans"]

MONO = "DejaVu Sans Mono"
CAP_FONT = ["Lato", "DejaVu Sans"]
CAP_COLOR = "#231f20"
RED = "#cc1111"
DOM_RED = "#d41c1c"
BLUE = "#2200ee"
GREEN = "#386a14"
GRID = "#d6f3f7"

W, H = 1292, 1156
fig = plt.figure(figsize=(W / 100, H / 100), dpi=100)
rend = fig.canvas.get_renderer()


def px_axes(x0, y0, x1, y1):
    ax = fig.add_axes([x0 / W, 1 - y1 / H, (x1 - x0) / W, (y1 - y0) / H])
    ax.set_axis_off()
    return ax


# page layer in pixel units
page = px_axes(0, 0, W, H)
page.set_xlim(0, W)
page.set_ylim(H, 0)

page.add_patch(FancyBboxPatch((10, 8), 1279, 1200, boxstyle="round,pad=0,rounding_size=14",
                              fc="none", ec="black", lw=1.2, zorder=1))

# ---------------------------------------------------------------- overview panel
page.add_patch(Rectangle((28, 23), 10, 99, fc="#f5f5d2", ec="none"))
page.add_patch(Rectangle((1260, 23), 16, 99, fc="#f5f5d2", ec="none"))
page.add_patch(Rectangle((38, 23), 1222, 99, fc="#c8c8c8", ec="none"))

OV0, OV_PX = 156.0, 3.367   # pixel of 0 kb, pixels per kb in the overview
ov = px_axes(38, 23, 1260, 122)
ov.set_xlim((38 - OV0) / OV_PX, (1260 - OV0) / OV_PX)
ov.set_ylim(122, 23)
ov.plot([0, chr_len_kb], [48, 48], color="#222222", lw=1.1)
ov.plot([1.8, 0, 1.8], [44, 48, 52], color="#222222", lw=1.0)
ov.plot([chr_len_kb - 1.8, chr_len_kb, chr_len_kb - 1.8], [44, 48, 52], color="#222222", lw=1.0)
for k in range(10, int(chr_len_kb), 10):
    if k % 100 == 0:
        ov.plot([k, k], [42, 54], color="#222222", lw=1.0)
    else:
        ov.plot([k, k], [45, 52], color="#222222", lw=1.0)
for k, lab in zip([0] + ruler_major_kb, overview_labels):
    ov.text(k, 64, lab, ha="center", va="center", fontsize=10, color="#222222")
ov.add_patch(Rectangle((view_kb[0], 24), view_kb[1] - view_kb[0], 97.5,
                       fc="none", ec="#cc2222", lw=1.3, clip_on=False))
sns.scatterplot(x=[cen3_kb], y=[105], ax=ov, s=55, color="#1a1aff", edgecolor="black",
                linewidth=1.0, zorder=5, legend=False)
ov.text(cen3_kb - 0.5, 90, "CEN3", ha="left", va="center", fontsize=10.5, color="#111111")
ov.set_axis_off()

# ---------------------------------------------------------------- detail panel geometry
X0_PX, PX_PER_KB = 18.0, 3.9
AX_L, AX_R = 50, 1250
KB_L, KB_R = (AX_L - X0_PX) / PX_PER_KB, (AX_R - X0_PX) / PX_PER_KB
LINE_L, LINE_R = (58 - X0_PX) / PX_PER_KB, (1243 - X0_PX) / PX_PER_KB


def track_axes(y0, y1, zero_px, px_per_unit):
    ax = px_axes(AX_L, y0, AX_R, y1)
    ax.set_xlim(KB_L, KB_R)
    ax.set_ylim(-(y1 - zero_px) / px_per_unit, (zero_px - y0) / px_per_unit)
    return ax


def bracket(ax, top, bottom, labels, color):
    tick = 6 / PX_PER_KB
    ax.plot([LINE_R, LINE_R], [bottom, top], color=color, lw=1.0, clip_on=False)
    for v, lab in zip([top, 0, bottom], labels):
        ax.plot([LINE_R, LINE_R + tick], [v, v], color=color, lw=1.0, clip_on=False)
        ax.text(LINE_R + 7.5 / PX_PER_KB, v, lab, color=color, ha="left", va="center",
                fontsize=10.5, clip_on=False)


# grid + ruler layer (y in pixels)
grid = px_axes(AX_L, 150, AX_R, 990)
grid.set_xlim(KB_L, KB_R)
grid.set_ylim(990, 150)
grid.vlines(np.arange(10, 320, 10), 158, 985, color=GRID, lw=1.0, zorder=0)
grid.plot([LINE_L, LINE_R], [166, 166], color="#222222", lw=1.1)
ah = 7 / PX_PER_KB
grid.plot([LINE_L + ah, LINE_L, LINE_L + ah], [160, 166, 172], color="#222222", lw=1.0)
grid.plot([LINE_R - ah, LINE_R, LINE_R - ah], [160, 166, 172], color="#222222", lw=1.0)
for k in range(20, 320, 10):
    if k in ruler_major_kb:
        grid.plot([k, k], [158, 170], color="#222222", lw=1.0)
    else:
        grid.plot([k, k], [162, 169], color="#222222", lw=1.0)
for k, lab in zip(ruler_major_kb, ruler_major_labels):
    grid.text(k, 182, lab, ha="center", va="center", fontsize=10, color="#222222")

# ---------------------------------------------------------------- ORF glyphs
orf = px_axes(AX_L, 210, AX_R, 232)
orf.set_xlim(KB_L, KB_R)
orf.set_ylim(232, 210)
for s, e, strand in orf_genes:
    y0, y1, ym = 217.5, 224.5, 221
    a = min(0.9, 0.45 * (e - s))
    if strand > 0:
        pts = [(s, y0), (e - a, y0), (e, ym), (e - a, y1), (s, y1)]
    elif strand < 0:
        pts = [(e, y0), (s + a, y0), (s, ym), (s + a, y1), (e, y1)]
    else:
        pts = [(s, y0), (e, y0), (e, y1), (s, y1)]
    orf.add_patch(Polygon(pts, closed=True, fc=RED if strand != 0 else "#111111",
                          ec="#111111", lw=0.7))

# ---------------------------------------------------------------- H3K14ac change
h3 = track_axes(262, 378, 318, 44 / 3)
h3_df = pd.DataFrame(h3k14ac_change, columns=["kb", "log2"])
h3.bar(h3_df["kb"], h3_df["log2"], width=0.55, color=RED, linewidth=0, zorder=2)
h3.plot([LINE_L, LINE_R], [0, 0], color=RED, lw=1.2, zorder=3)
bracket(h3, 3, -3, ["3", "0", "-3"], RED)


# ---------------------------------------------------------------- domain tracks
def domain_frame(domains):
    rows = []
    for i, (s, e, sign) in enumerate(domains):
        h = 4 * sign
        w = min(0.35, (e - s) / 4)
        for x, y in [(s, 0), (s, 0.45 * h), (s + w, h), (e - w, h), (e, 0.45 * h), (e, 0)]:
            rows.append((i, x, y))
    return pd.DataFrame(rows, columns=["unit", "kb", "level"])


h3d = track_axes(412, 470, 441, 5.5)
h3d.plot([LINE_L, LINE_R], [0, 0], color=DOM_RED, lw=1.0)
sns.lineplot(data=domain_frame(h3k14ac_domains), x="kb", y="level", units="unit",
             estimator=None, sort=False, color=DOM_RED, lw=1.0, ax=h3d, legend=False)
h3d.set_xlim(KB_L, KB_R)
h3d.set_ylim(-(470 - 441) / 5.5, (441 - 412) / 5.5)
h3d.set_axis_off()
bracket(h3d, 4, -4, ["4", "0", "-4"], DOM_RED)

# ---------------------------------------------------------------- H4ac change
h4 = track_axes(500, 686, 593, 74 / 3)
h4_df = pd.DataFrame(h4ac_change, columns=["kb", "log2"])
h4.bar(h4_df["kb"], h4_df["log2"], width=0.5, color=BLUE, linewidth=0, zorder=2)
h4.plot([LINE_L, LINE_R], [0, 0], color=BLUE, lw=1.6, zorder=3)
bracket(h4, 3, -3, ["3", "0", "-3"], BLUE)

h4d = track_axes(716, 775, 745, 5.6)
h4d.plot([LINE_L, LINE_R], [0, 0], color=BLUE, lw=1.0)
sns.lineplot(data=domain_frame(h4ac_domains), x="kb", y="level", units="unit",
             estimator=None, sort=False, color=BLUE, lw=1.0, ax=h4d, legend=False)
h4d.set_xlim(KB_L, KB_R)
h4d.set_ylim(-(775 - 745) / 5.6, (745 - 716) / 5.6)
h4d.set_axis_off()
bracket(h4d, 4, -4, ["4", "0", "-4"], BLUE)

# ---------------------------------------------------------------- expression
ex = track_axes(788, 990, 896, 74 / 3)
ex_df = pd.DataFrame(expression_60m, columns=["start", "end", "log2"])
ex_colors = [RED if v > 0 else GREEN for v in ex_df["log2"]]
ex.plot([LINE_L - 0.8, LINE_R], [0, 0], color="black", lw=0.9, zorder=2)
ex.bar(ex_df["start"], ex_df["log2"], width=ex_df["end"] - ex_df["start"], align="edge",
       color=ex_colors, edgecolor="black", linewidth=0.9, zorder=3)
bracket(ex, 3, -3, ["3", "0", "-3"], "black")

# ---------------------------------------------------------------- labels on top of everything
top = px_axes(0, 0, W, H)
top.set_xlim(0, W)
top.set_ylim(H, 0)
top.text(157, 38, "Overview of III", family=MONO, fontweight="bold", fontsize=12.4, va="baseline")
top.text(38, 96, "Centromeres", family=MONO, fontweight="bold", fontsize=12.4, va="baseline")
titles = [
    (214, "ORF", True), (250, "H3K14ac change: log2(H202/YPD)", True), (267, "Change", False),
    (393, "H3K14ac domain (boundary=0.5)", True), (410, "domain", False),
    (494, "H4ac change: log2(H202/YPD)", True), (511, "Change", False),
    (697, "H4ac domain", True), (714, "domain", False),
    (798, "Expression change at 60 min: log2(H2O2/YPD)", True), (815, "60m", False),
]
for y, s, bold in titles:
    top.text(57, y, s, family=MONO, fontweight="bold" if bold else "normal",
             fontsize=12.4 if bold else 10.5, va="baseline", color="black")

# ---------------------------------------------------------------- caption
CAP_X, CAP_Y0, CAP_DY = 26, 1012, 26.4


def seg_kwargs(style, size):
    kw = dict(family=CAP_FONT, color=CAP_COLOR, va="baseline", ha="left", fontsize=size)
    if style == "bold":
        kw["fontweight"] = "bold"
    if style == "sub":
        kw["fontsize"] = size * 0.68
    return kw


def line_width(segs, size):
    total = 0.0
    for s, style in segs:
        t = top.text(0, 0, s, **seg_kwargs(style, size))
        total += t.get_window_extent(renderer=rend).width
        t.remove()
    return total


for i, segs in enumerate(caption_lines):
    size = 10 * (caption_line_ends[i] - CAP_X) / line_width(segs, 10)
    x = CAP_X
    y = CAP_Y0 + i * CAP_DY
    for s, style in segs:
        t = top.text(x, y + (4 if style == "sub" else 0), s, **seg_kwargs(style, size))
        x += t.get_window_extent(renderer=rend).width

fig.savefig("out.png", dpi=100)
